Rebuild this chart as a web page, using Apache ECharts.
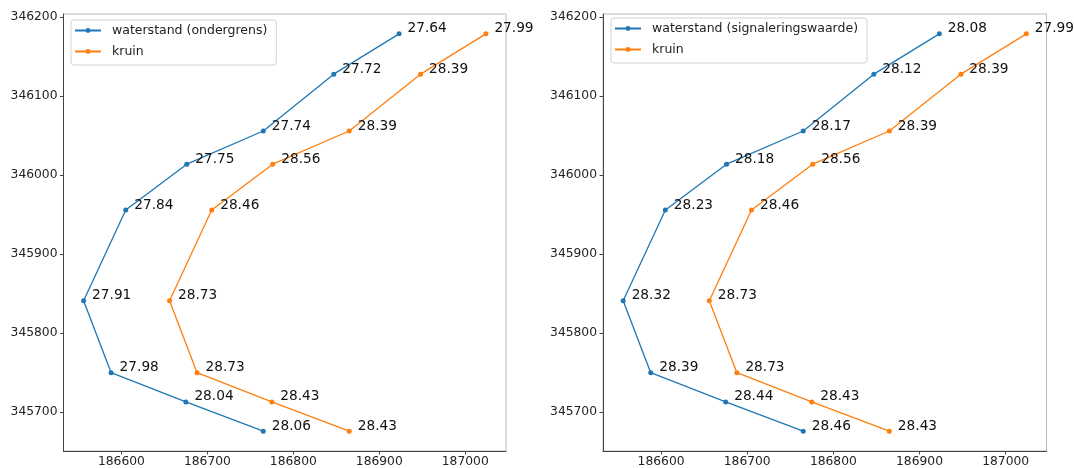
<!DOCTYPE html>
<html>
<head>
<meta charset="utf-8">
<script src="https://cdn.jsdelivr.net/npm/echarts@6/dist/echarts.min.js"></script>
<style>
  html, body { margin: 0; padding: 0; background: #fff; }
  #chart { width: 1074px; height: 468px; }
</style>
</head>
<body>
<div id="chart"></div>
<script>
// ---- data ----
const yCoords      = [346179, 346128, 346056, 346014, 345956, 345841, 345750, 345713, 345676];
const xWaterstand  = [186923, 186847, 186765, 186676, 186605, 186556, 186588, 186675, 186765];
const xKruin       = [187024, 186948, 186865, 186776, 186705, 186656, 186688, 186775, 186865];
const lblOndergrens  = [27.64, 27.72, 27.74, 27.75, 27.84, 27.91, 27.98, 28.04, 28.06];
const lblSignalering = [28.08, 28.12, 28.17, 28.18, 28.23, 28.32, 28.39, 28.44, 28.46];
const lblKruin       = [27.99, 28.39, 28.39, 28.56, 28.46, 28.73, 28.73, 28.43, 28.43];
const xTicks = [186600, 186700, 186800, 186900, 187000];
const yTicks = [345700, 345800, 345900, 346000, 346100, 346200];
const nameOnder = 'waterstand (ondergrens)';
const nameSignal = 'waterstand (signaleringswaarde)';
const nameKruin = 'kruin';

// matplotlib-like 5% margins
const allX = xWaterstand.concat(xKruin);
const xMinD = Math.min(...allX), xMaxD = Math.max(...allX);
const yMinD = Math.min(...yCoords), yMaxD = Math.max(...yCoords);
const xPad = (xMaxD - xMinD) * 0.05, yPad = (yMaxD - yMinD) * 0.05;

const BLUE = '#1f77b4', ORANGE = '#ff7f0e';
const FONT = 'DejaVu Sans';

function pts(xs) { return xs.map((x, i) => [x, yCoords[i]]); }
const plain = v => String(Math.round(v));

function xAxis(gi) {
  return {
    type: 'value', gridIndex: gi, min: xMinD - xPad, max: xMaxD + xPad,
    splitLine: { show: false },
    axisLine: { show: true, onZero: false, lineStyle: { color: '#444', width: 1 } },
    axisTick: { show: true, length: 3.5, customValues: xTicks, lineStyle: { color: '#444' } },
    axisLabel: { customValues: xTicks, formatter: plain, margin: 5, fontFamily: FONT, fontSize: 12.3, color: '#222' }
  };
}
function yAxis(gi) {
  return {
    type: 'value', gridIndex: gi, min: yMinD - yPad, max: yMaxD + yPad,
    splitLine: { show: false },
    axisLine: { show: true, onZero: false, lineStyle: { color: '#444', width: 1 } },
    axisTick: { show: true, length: 3.5, customValues: yTicks, lineStyle: { color: '#444' } },
    axisLabel: { customValues: yTicks, formatter: plain, margin: 6, fontFamily: FONT, fontSize: 12.3, color: '#222' }
  };
}
function series(name, xs, labels, color, gi) {
  return {
    name: name, type: 'line', xAxisIndex: gi, yAxisIndex: gi,
    data: pts(xs),
    symbol: 'circle', symbolSize: 5, showSymbol: true,
    lineStyle: { color: color, width: 1.3 },
    itemStyle: { color: color },
    clip: false,
    animation: false,
    label: {
      show: true, position: 'right', distance: 6, offset: [0, -5],
      fontFamily: FONT, fontSize: 13.7, color: '#111',
      formatter: p => labels[p.dataIndex].toFixed(2)
    },
    emphasis: { disabled: true }
  };
}
function legend(left, top, names) {
  return {
    left: left, top: top, orient: 'vertical',
    data: names,
    itemWidth: 26, itemHeight: 6, itemGap: 8,
    padding: [4, 9, 7, 3],
    backgroundColor: 'rgba(255,255,255,0.85)',
    borderColor: '#d0d0d0', borderWidth: 1, borderRadius: 3,
    textStyle: { fontFamily: FONT, fontSize: 12.5, color: '#222', padding: [0, 0, 0, 6] },
    selectedMode: false
  };
}

const chart = echarts.init(document.getElementById('chart'), null, { renderer: 'canvas' });
chart.setOption({
  animation: false,
  backgroundColor: '#fff',
  grid: [
    { left: 63.5, top: 14, width: 442.5, height: 439, show: true, borderColor: '#bbb', borderWidth: 1, containLabel: false },
    { left: 603, top: 14, width: 443.5, height: 437, show: true, borderColor: '#bbb', borderWidth: 1, containLabel: false }
  ],
  xAxis: [xAxis(0), xAxis(1)],
  yAxis: [yAxis(0), yAxis(1)],
  legend: [
    legend(71, 20, [nameOnder, nameKruin]),
    legend(611, 18, [nameSignal, nameKruin])
  ],
  series: [
    series(nameOnder, xWaterstand, lblOndergrens, BLUE, 0),
    series(nameKruin, xKruin, lblKruin, ORANGE, 0),
    series(nameSignal, xWaterstand, lblSignalering, BLUE, 1),
    series(nameKruin, xKruin, lblKruin, ORANGE, 1)
  ]
});
</script>
</body>
</html>
